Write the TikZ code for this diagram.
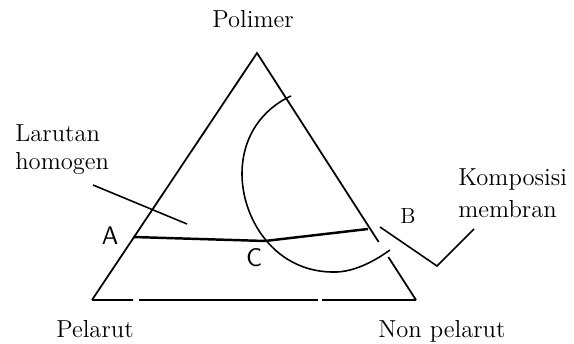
\documentclass[tikz,border=0pt]{standalone}
\usepackage{tikz}
\usetikzlibrary{calc}

\begin{document}
\begin{tikzpicture}[
    side/.style={line width=1pt},
    tie/.style={line width=1.4pt},
    binodal/.style={line width=0.9pt},
    lead/.style={line width=0.9pt},
    lab/.style={font=\fontsize{14}{16}\selectfont, inner sep=0pt, align=left},
    pt/.style={font=\fontsize{14.5}{16}\selectfont\sffamily, inner sep=0pt}
  ]
    \useasboundingbox (0,0) rectangle (11.48,6.88);

    % corners of the ternary diagram
    \coordinate (top) at (5.14,5.82);
    \coordinate (left) at (1.84,0.88);
    \coordinate (right) at (8.32,0.88);

    \node[lab, anchor=base] (polimer) at (5.06,6.32) {Polimer};
    \node[lab, anchor=base west] (pelarut) at (1.12,0.12) {Pelarut};
    \node[lab, anchor=base west] (nonpelarut) at (7.56,0.12) {Non pelarut};
    \node[lab, anchor=west] (homogen) at (0.30,3.88) {Larutan\\homogen};
    \node[lab, anchor=west, font=\fontsize{14}{18}\selectfont] (membran) at (9.16,3.02) {Komposisi\\membran};

    \node[pt] (A) at (2.20,2.16) {A};
    \node[pt] (C) at (5.08,1.72) {C};
    \node[lab, font=\fontsize{12.5}{14}\selectfont] (B) at (8.16,2.56) {B};

    % tie line A - C - B
    \coordinate (pA) at (2.66,2.14);
    \coordinate (pC) at (5.30,2.06);
    \coordinate (pB) at (7.36,2.30);

    \draw[side] (left) -- (top) -- ($(top)!0.765!(right)$);
    \draw[side] ($(top)!0.826!(right)$) -- (right);
    \draw[side] (left) -- ($(left)!0.127!(right)$);
    \draw[side] ($(left)!0.145!(right)$) -- ($(left)!0.698!(right)$);
    \draw[side] ($(left)!0.710!(right)$) -- (right);

    % binodal curve
    \draw[binodal] (5.82,4.96) .. controls (5.25,4.70) and (4.84,4.15) .. (4.84,3.40)
      .. controls (4.84,2.50) and (5.50,1.40) .. (6.74,1.44)
      .. controls (7.15,1.46) and (7.55,1.70) .. (7.80,1.88);

    \draw[tie] (pA) -- (pC) -- (pB);

    % pointers to the labels
    \coordinate (hEnd) at (3.74,2.40);
    \coordinate (mKnee) at (8.74,1.56);
    \draw[lead] (1.86,3.18) -- (hEnd);
    \draw[lead] (7.60,2.34) -- (mKnee) -- (9.48,2.30);
  \end{tikzpicture}
\end{document}
